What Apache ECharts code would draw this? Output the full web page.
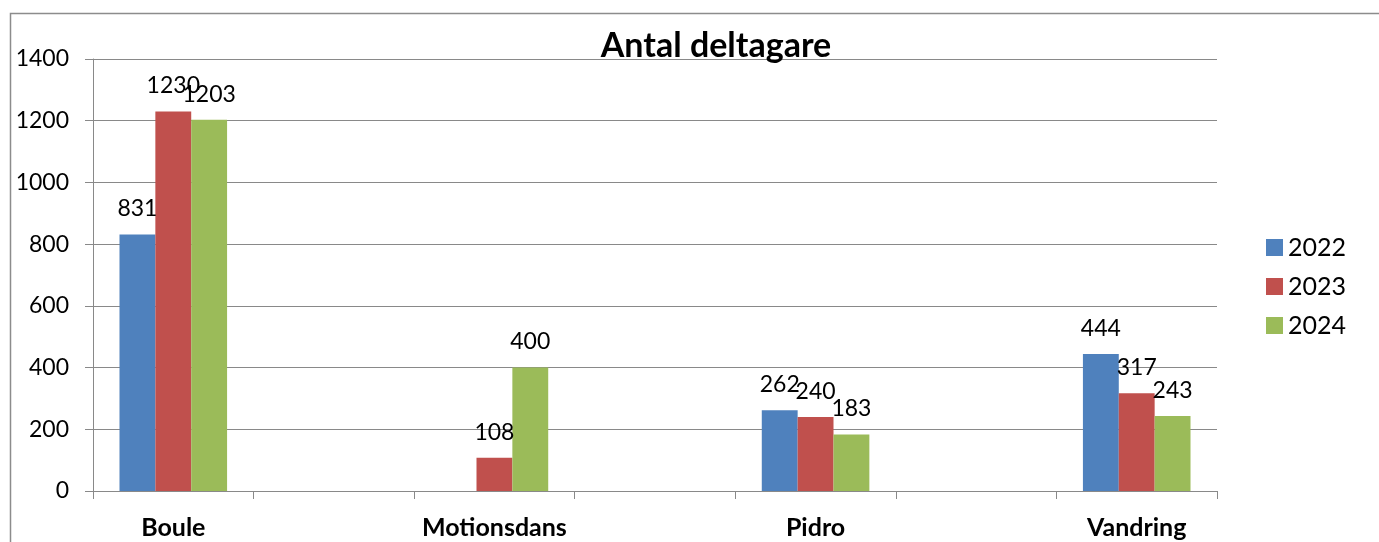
<!DOCTYPE html>
<html><head><meta charset="utf-8">
<script src="https://cdn.jsdelivr.net/npm/echarts@6/dist/echarts.min.js"></script>
<style>html,body{margin:0;padding:0;background:#fff}#c{width:1379px;height:542px}</style>
</head><body><div id="c"></div>
<script>
const categories = ['Boule', '', 'Motionsdans', '', 'Pidro', '', 'Vandring'];
const years = ['2022', '2023', '2024'];
const values2022 = [831, null, null, null, 262, null, 444];
const values2023 = [1230, null, 108, null, 240, null, 317];
const values2024 = [1203, null, 400, null, 183, null, 243];
const yTicks = { min: 0, max: 1400, interval: 200 };
const colors = ['#4F81BD', '#C0504D', '#9BBB59'];
const FONT = 'Lato, "Open Sans", sans-serif';

const chart = echarts.init(document.getElementById('c'));
const seriesData = [values2022, values2023, values2024];
chart.setOption({
  animation: false,
  textStyle: { fontFamily: FONT },
  title: {
    text: 'Antal deltagare', left: 711, top: 24, textAlign: 'center',
    textStyle: { fontFamily: FONT, fontWeight: 'bold', fontSize: 34, color: '#000' }
  },
  graphic: [{
    type: 'polyline', silent: true,
    shape: { points: [[10.5, 560], [10.5, 13.5], [1400, 13.5]] },
    style: { stroke: '#8c8c8c', lineWidth: 1.5, fill: null }
  }],
  legend: {
    orient: 'vertical', left: 1261, top: 230, itemGap: 14,
    itemWidth: 17, itemHeight: 17, icon: 'rect',
    textStyle: { fontFamily: FONT, fontSize: 25, color: '#000' },
    data: years
  },
  grid: { left: 93, right: 162, top: 59, bottom: 51, containLabel: false },
  xAxis: {
    type: 'category', data: categories,
    axisLine: { lineStyle: { color: '#898989', width: 1 } },
    axisTick: { show: true, length: 8, interval: 0, lineStyle: { color: '#898989' } },
    axisLabel: { fontFamily: FONT, fontWeight: 'bold', fontSize: 25, color: '#000', margin: 24, interval: 0 }
  },
  yAxis: {
    type: 'value', min: yTicks.min, max: yTicks.max, interval: yTicks.interval,
    axisLine: { show: true, lineStyle: { color: '#898989' } },
    axisTick: { show: true, length: 8, lineStyle: { color: '#898989' } },
    splitLine: { lineStyle: { color: '#898989', width: 1 } },
    axisLabel: { fontFamily: FONT, fontSize: 23, color: '#000', margin: 24, formatter: v => String(v) }
  },
  series: years.map((y, i) => ({
    name: y, type: 'bar', data: seriesData[i],
    barGap: '0%', barCategoryGap: '33%',
    itemStyle: { color: colors[i] },
    label: {
      show: true, position: 'top', distance: 14,
      fontFamily: FONT, fontSize: 23, color: '#000'
    }
  }))
});
</script></body></html>
